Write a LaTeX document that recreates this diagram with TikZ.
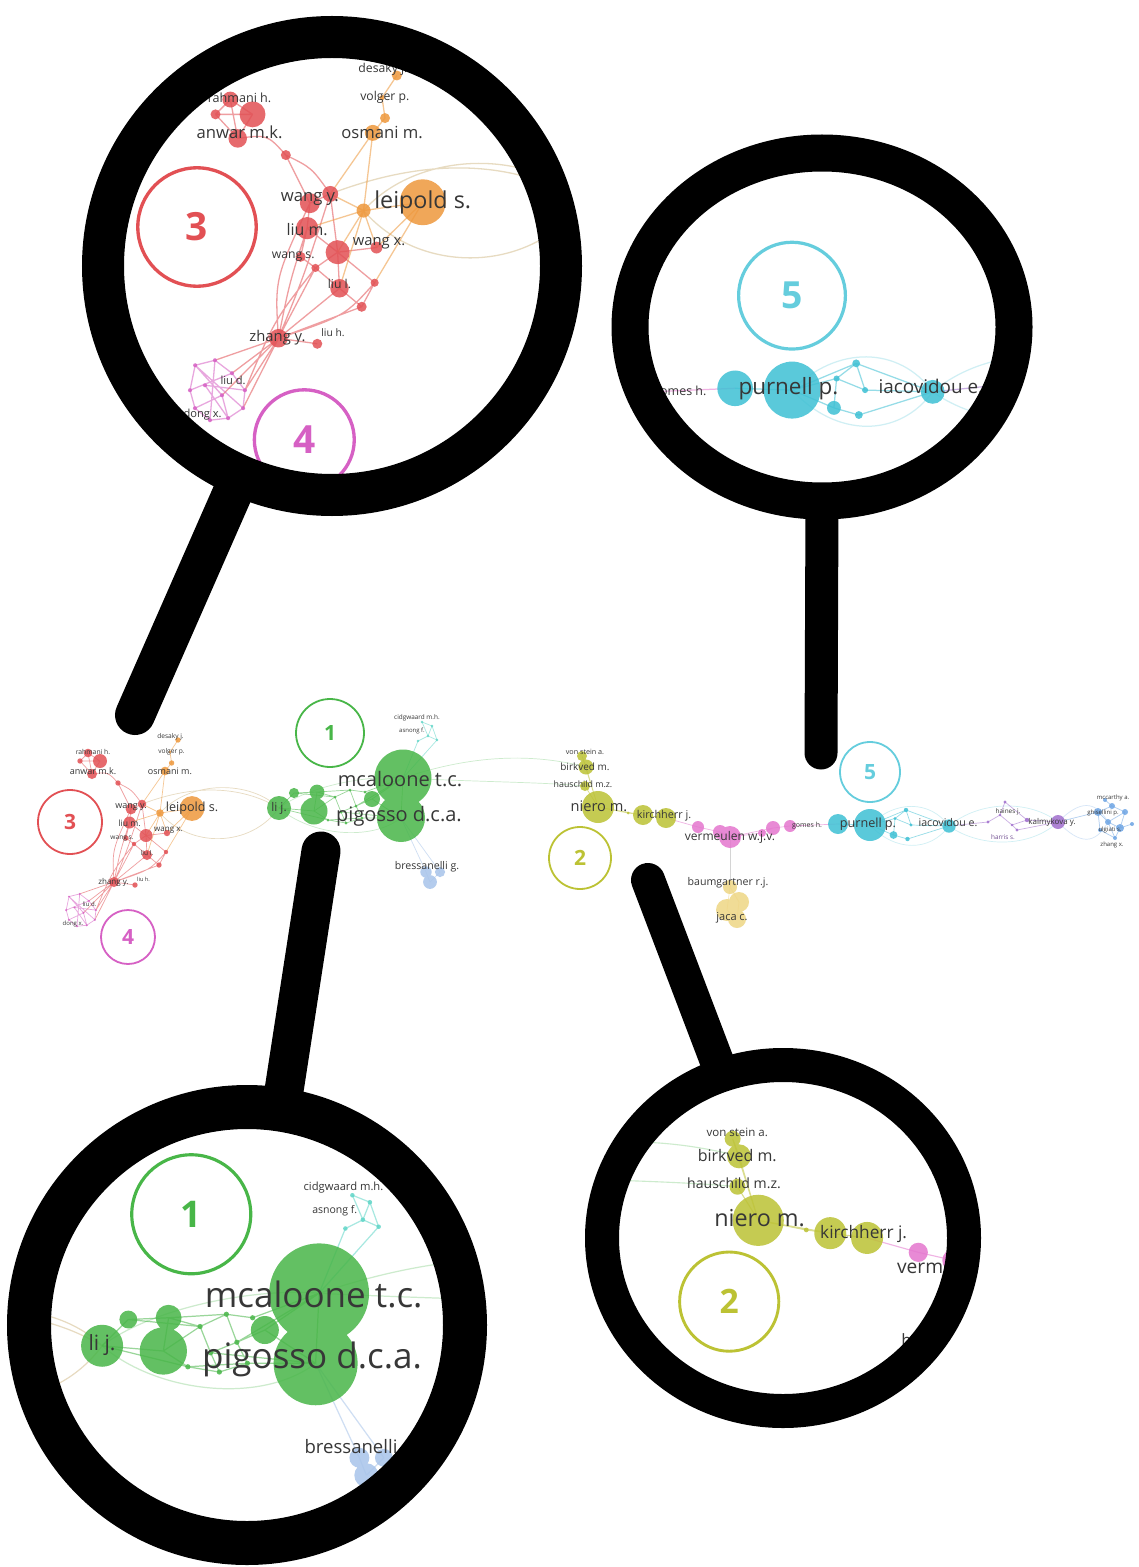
\documentclass[tikz,border=0pt]{standalone}
\usepackage{fontspec}
\setmainfont{Open Sans}
\definecolor{cR}{RGB}{226,80,84}
\definecolor{cO}{RGB}{238,152,60}
\definecolor{cG}{RGB}{72,182,72}
\definecolor{cY}{RGB}{188,194,52}
\definecolor{cP}{RGB}{228,118,206}
\definecolor{cM}{RGB}{214,96,196}
\definecolor{cC}{RGB}{62,192,212}
\definecolor{cV}{RGB}{160,110,205}
\definecolor{cB}{RGB}{110,165,228}
\definecolor{cLB}{RGB}{168,196,234}
\definecolor{cPY}{RGB}{238,214,132}
\definecolor{cT}{RGB}{96,214,200}
\definecolor{cL}{RGB}{226,210,178}
\definecolor{txt}{RGB}{55,55,55}
\tikzset{
 ed/.style={draw=#1, draw opacity=0.55, line width={\ns*0.35pt}},
 nd/.style={fill=#1, fill opacity=0.85},
 lab/.style={text=txt, inner sep=0pt, font=\fontsize{#1}{#1}\selectfont},
 clu/.style={draw=#1, line width={\ns*0.9pt}},
 num/.style={text=#1, inner sep=0pt, font=\fontsize{10.5}{10.5}\selectfont\bfseries},
 ringline/.style={draw=black, line width=#1},
 handle/.style={draw=black, line width=#1, line cap=round},
}
\def\ns{1}
% ================= geometry of the network =================
\newcommand\netgeom{
% cluster 3 (red) and orange
\coordinate (r1) at (88,753);
\coordinate (r2) at (100,761);
\coordinate (r3) at (80,761);
\coordinate (r4) at (92,774);
\coordinate (r5) at (118,783);
\coordinate (wy1) at (131,809);
\coordinate (wy2) at (142,804);
\coordinate (lm) at (129.5,822.5);
\coordinate (r6) at (146,835.5);
\coordinate (wx) at (167,833);
\coordinate (ws) at (126,838);
\coordinate (r7) at (134,844);
\coordinate (r8) at (147,855);
\coordinate (r9) at (166,852);
\coordinate (r10) at (159,865);
\coordinate (zy) at (114,882);
\coordinate (r11) at (135,885);
\coordinate (lp) at (192,808.5);
\coordinate (so) at (160,813);
\coordinate (om) at (165,771);
\coordinate (o2) at (171.6,763);
\coordinate (o3) at (178,740);
\coordinate (o4) at (170,752);
% cluster 4 (magenta)
\coordinate (k1) at (69,896.6);
\coordinate (k2) at (79.7,893.9);
\coordinate (k3) at (88.9,900.9);
\coordinate (k4) at (95.9,910.1);
\coordinate (k5) at (94.9,919.8);
\coordinate (k6) at (86.8,925.2);
\coordinate (k7) at (77,926.3);
\coordinate (k8) at (68.9,919.8);
\coordinate (k9) at (66.2,910.1);
\coordinate (k10) at (74.3,907.4);
\coordinate (k11) at (83.5,912.8);
% cluster 1 (green)
\coordinate (mc) at (403,778);
\coordinate (pg) at (401,818);
\coordinate (lj) at (279,808);
\coordinate (g2) at (314,811);
\coordinate (g3) at (317,792);
\coordinate (g4) at (294,793);
\coordinate (g5) at (372,799);
\coordinate (gd1) at (335,797);
\coordinate (gd2) at (341,812);
\coordinate (gd3) at (350,790);
\coordinate (gd4) at (356,806);
\coordinate (gd5) at (362,818);
\coordinate (gd6) at (346,823);
\coordinate (gd7) at (328,820);
\coordinate (gd8) at (365,792);
\coordinate (t1) at (422,722);
\coordinate (t2) at (432,726);
\coordinate (t3) at (428,736);
\coordinate (t4) at (418,741);
\coordinate (t5) at (437,740);
\coordinate (b1) at (426,872);
\coordinate (b2) at (430,882);
\coordinate (b3) at (440,872);
% cluster 2 (yellow)
\coordinate (nm) at (598,807);
\coordinate (vs) at (582,756);
\coordinate (bv) at (586,767);
\coordinate (hs) at (585,786);
\coordinate (kj1) at (643,815);
\coordinate (kj2) at (666,818);
\coordinate (yd) at (628,813);
% pink
\coordinate (p1) at (698,827);
\coordinate (p2) at (720,832);
\coordinate (vm) at (730,837);
\coordinate (p5) at (762,833);
\coordinate (p3) at (773,828);
\coordinate (p4) at (790,826);
\coordinate (j1) at (730,887);
\coordinate (j2) at (727,910);
\coordinate (j3) at (739,902);
\coordinate (j4) at (737,919);
% cluster 5 (cyan) and right part
\coordinate (pc) at (838,824);
\coordinate (pp) at (870,825);
\coordinate (c1) at (906,810);
\coordinate (c2) at (895,818.5);
\coordinate (c3) at (911,825);
\coordinate (c4) at (893.5,835);
\coordinate (c5) at (907.5,839);
\coordinate (ia) at (949,826);
\coordinate (v1) at (1005,802);
\coordinate (v2) at (1027,820);
\coordinate (v3) at (1017,830);
\coordinate (v4) at (988,822);
\coordinate (v5) at (1000,815);
\coordinate (v6) at (1012,825);
\coordinate (km) at (1058,822);
\coordinate (bb1) at (1098,812);
\coordinate (bb2) at (1112,806);
\coordinate (bb3) at (1125,812);
\coordinate (bb4) at (1108,822);
\coordinate (bb5) at (1120,828);
\coordinate (bb6) at (1100,830);
\coordinate (bb7) at (1132,824);
\coordinate (bb8) at (1115,838);
\coordinate (bb9) at (1105,800);
% ---------- edges
\draw[ed=cL, draw opacity=0.8] (so) .. controls (190,780) and (250,780) .. (lj)
  (so) .. controls (190,848) and (250,848) .. (lj)
  (wy2) .. controls (200,782) and (245,788) .. (lj);
\draw[ed=cG!60, draw opacity=0.45] (mc) .. controls (480,752) and (540,755) .. (bv)
  (mc) .. controls (480,782) and (540,782) .. (hs)
  (lj) .. controls (310,785) and (370,775) .. (mc)
  (lj) .. controls (310,835) and (370,842) .. (pg);
\draw[ed=cR] (r1) -- (r2) (r1) -- (r3) (r2) -- (r4) (r3) -- (r4) (r1) -- (r4) (r2) -- (r3)
  (r4) .. controls (108,772) .. (r5) (r5) .. controls (132,790) .. (wy2) (r5) -- (wy1)
  (wy1) -- (wy2) (wy1) -- (lm) (lm) -- (r6) (wy2) -- (r6) (lm) -- (ws) (ws) -- (r7)
  (r7) -- (r8) (r6) -- (r8) (r6) -- (wx) (r6) -- (r9) (r8) -- (r10) (r9) -- (r10) (r6) -- (r7)
  (zy) .. controls (112,850) .. (wy1) (zy) .. controls (120,852) .. (lm) (zy) -- (r7) (zy) -- (r8)
  (zy) -- (r11) (zy) .. controls (128,848) .. (wy2) (zy) -- (r10) (zy) .. controls (150,870) .. (r9)
  (zy) -- (k2) (zy) -- (k3) (zy) -- (k4) (zy) -- (k5) (zy) -- (k11)
  (k4) .. controls (112,872) .. (r7);
\draw[ed=cO] (om) -- (so) (om) -- (o2) (o2) -- (o4) (o4) -- (o3) (so) -- (lp) (so) -- (wy2)
  (so) -- (lm) (so) -- (r6) (so) -- (wx) (lp) -- (wx) (om) -- (wy2) (lp) -- (r9) (so) -- (r8);
\draw[ed=cM] (k1) -- (k2) -- (k3) -- (k4) -- (k5) -- (k6) -- (k7) -- (k8) -- (k9) -- (k1)
  (k1) -- (k5) (k2) -- (k7) (k3) -- (k9) (k10) -- (k4) (k11) -- (k1) (k11) -- (k6) (k11) -- (k8) (k10) -- (k6);
\draw[ed=cG] (lj) -- (g4) (lj) -- (g2) (g4) -- (g3) (g3) -- (g2) (g2) -- (gd7) (g2) -- (gd1)
  (g3) -- (gd1) (gd1) -- (gd3) (gd1) -- (gd2) (gd2) -- (gd4) (gd3) -- (gd4) (gd4) -- (g5)
  (gd3) -- (gd8) (gd8) -- (mc) (g5) -- (mc) (g5) -- (pg) (gd5) -- (pg) (gd4) -- (gd5)
  (gd6) -- (gd5) (gd7) -- (gd6) (gd2) -- (gd6) (mc) -- (pg) (g3) -- (gd3) (lj) -- (gd7)
  (gd2) -- (pg) (gd4) -- (mc) (g4) -- (gd1) (gd7) -- (gd5);
\draw[ed=cT] (t1) -- (t2) (t1) -- (t3) (t2) -- (t3) (t3) -- (t4) (t3) -- (t5) (t2) -- (t5)
  (t4) -- (mc) (t5) -- (mc);
\draw[ed=cLB] (pg) -- (b1) (pg) -- (b3) (b1) -- (b2) (b2) -- (b3);
\draw[ed=cY] (nm) -- (vs) (nm) -- (bv) (nm) -- (hs) (bv) -- (vs) (nm) -- (yd) (yd) -- (kj1)
  (kj1) -- (kj2) (nm) -- (kj1);
\draw[ed=cP] (kj2) -- (p1) (p1) -- (p2) (p2) -- (vm) (vm) -- (p5) (p5) -- (p3) (p3) -- (p4)
  (p4) -- (pc) (vm) -- (p3);
\draw[ed=gray!60] (vm) -- (j1);
\draw[ed=cPY] (j1) -- (j2) (j1) -- (j3) (j2) -- (j4) (j3) -- (j4);
\draw[ed=cC] (pc) -- (pp) (pp) -- (c1) (pp) -- (c2) (pp) -- (c4) (c1) -- (c3) (c2) -- (c3)
  (c4) -- (c5) (c1) -- (ia) (c3) -- (ia) (c5) -- (ia) (c2) -- (c4) (c1) -- (c2);
\draw[ed=cC!60, draw opacity=0.4] (pp) .. controls (895,800) and (930,800) .. (ia)
  (pp) .. controls (895,852) and (930,852) .. (ia)
  (ia) .. controls (980,800) and (1030,800) .. (km)
  (ia) .. controls (980,848) and (1030,848) .. (km);
\draw[ed=cV] (ia) -- (v4) (v4) -- (v5) (v5) -- (v1) (v5) -- (v6) (v6) -- (v2) (v6) -- (v3)
  (v2) -- (km) (v3) -- (km) (v1) -- (v2);
\draw[ed=cB!70, draw opacity=0.4] (km) .. controls (1080,800) and (1095,800) .. (bb4)
  (km) .. controls (1080,845) and (1095,845) .. (bb4);
\draw[ed=cB] (bb1) -- (bb2) (bb2) -- (bb3) (bb1) -- (bb4) (bb4) -- (bb5) (bb5) -- (bb3)
  (bb1) -- (bb6) (bb6) -- (bb8) (bb8) -- (bb5) (bb5) -- (bb7) (bb9) -- (bb2) (bb4) -- (bb3)
  (km) -- (bb1) (bb4) -- (bb8);
% ---------- nodes
\fill[nd=cR] (r1) circle (4.3) (r2) circle (7) (r3) circle (2.7) (r4) circle (5)
  (r5) circle (2.7) (wy1) circle (5.4) (wy2) circle (4.3) (lm) circle (6) (r6) circle (6.5)
  (wx) circle (3.2) (ws) circle (2.7) (r7) circle (2.2) (r8) circle (5) (r9) circle (2.2)
  (r10) circle (2.7) (zy) circle (5) (r11) circle (2.7);
\fill[nd=cO] (lp) circle (12.4) (so) circle (3.8) (om) circle (4.3) (o2) circle (2.7)
  (o3) circle (2.7) (o4) circle (1.4);
\fill[nd=cM] (k1) circle (1.1) (k2) circle (1.1) (k3) circle (1.1) (k4) circle (1.1)
  (k5) circle (1.1) (k6) circle (1.1) (k7) circle (1.1) (k8) circle (1.1) (k9) circle (1.1)
  (k10) circle (1.1) (k11) circle (1.1);
\fill[nd=cG] (mc) circle (28.5) (pg) circle (24) (lj) circle (12) (g2) circle (13.5)
  (g3) circle (7.4) (g4) circle (5.1) (g5) circle (8) (gd1) circle (1.5) (gd2) circle (1.5)
  (gd3) circle (1.5) (gd4) circle (1.5) (gd5) circle (1.5) (gd6) circle (1.5) (gd7) circle (1.5)
  (gd8) circle (1.5);
\fill[nd=cT] (t1) circle (1.3) (t2) circle (1.3) (t3) circle (1.3) (t4) circle (1.3) (t5) circle (1.3);
\fill[nd=cLB] (b1) circle (5.7) (b2) circle (6.9) (b3) circle (5.1);
\fill[nd=cY] (nm) circle (16) (vs) circle (5) (bv) circle (7.5) (hs) circle (5)
  (kj1) circle (10) (kj2) circle (10) (yd) circle (1.5);
\fill[nd=cP] (p1) circle (6) (p2) circle (7) (vm) circle (11) (p5) circle (4) (p3) circle (7)
  (p4) circle (6);
\fill[nd=cPY] (j1) circle (7) (j2) circle (11) (j3) circle (10) (j4) circle (9);
\fill[nd=cC] (pc) circle (10) (pp) circle (16) (c1) circle (2.2) (c2) circle (1.7) (c3) circle (1.7)
  (c4) circle (3.9) (c5) circle (2.2) (ia) circle (6.7);
\fill[nd=cV] (v1) circle (1.6) (v2) circle (2.2) (v3) circle (1.6) (v4) circle (1.6)
  (v5) circle (1.3) (v6) circle (1.3) (km) circle (7);
\fill[nd=cB] (bb1) circle (4) (bb2) circle (3) (bb3) circle (3) (bb4) circle (3) (bb5) circle (4)
  (bb6) circle (2) (bb7) circle (2) (bb8) circle (2) (bb9) circle (2);
% ---------- cluster circles
\draw[clu=cR] (70,822) circle (32);
\draw[clu=cM] (128,937) circle (27);
\draw[clu=cG] (330,733) circle (34);
\draw[clu=cY] (580,858) circle (31);
\draw[clu=cC!80] (870,772) circle (30);
}
% ================= label groups =================
\newcommand\labR{
\node[num=cR] (n3) at (70,822) {3};
\node[num=cM] (n4) at (128,937) {4};
\node[lab=3.4] (l1) at (93,752) {rahmani h.};
\node[lab=4.5] (l2) at (93,771) {anwar m.k.};
\node[lab=3.3] (l3) at (170.5,737) {desaky j.};
\node[lab=3.3] (l4) at (171.5,752) {volger p.};
\node[lab=4.5] (l5) at (170,771) {osmani m.};
\node[lab=4.5] (l6) at (131,807) {wang y.};
\node[lab=6.3] (l7) at (192,808.5) {leipold s.};
\node[lab=4.3] (l8) at (129.5,823.5) {liu m.};
\node[lab=4] (l9) at (168.4,830.6) {wang x.};
\node[lab=3.3] (l10) at (122,838) {wang s.};
\node[lab=3.3] (l11) at (147,853) {liu l.};
\node[lab=4] (l12) at (113.5,882) {zhang y.};
\node[lab=2.8] (l13) at (143.5,879) {liu h.};
\node[lab=3] (l14) at (89.5,904.7) {liu d.};
\node[lab=3] (l15) at (73,923.6) {dong x.};
}
\newcommand\labG{
\node[num=cG] (n1) at (330,733) {1};
\node[lab=6] (l16) at (279,808) {li j.};
\node[lab=10] (l17) at (400,779) {mcaloone t.c.};
\node[lab=10] (l18) at (399,816) {pigosso d.c.a.};
\node[lab=3.2] (l19) at (417,718) {cidgwaard m.h.};
\node[lab=3] (l20) at (412,731) {asnong f.};
\node[lab=5.3] (l21) at (427,867) {bressanelli g.};
}
\newcommand\labY{
\node[num=cY] (n2) at (580,858) {2};
\node[lab=3.6] (l22) at (585,752) {von stein a.};
\node[lab=5] (l23) at (585,767) {birkved m.};
\node[lab=4.4] (l24) at (583,784) {hauschild m.z.};
\node[lab=7.3] (l25) at (599,806) {niero m.};
\node[lab=5.4] (l26) at (664,816) {kirchherr j.};
\node[lab=6] (l27) at (730,837) {vermeulen w.j.v.};
\node[lab=5.3] (l29) at (728,883) {baumgartner r.j.};
}
\newcommand\labJ{
\node[lab=5.5] (l30) at (732,918) {jaca c.};
}
\newcommand\labC{
\node[num=cC!80] (n5) at (870,772) {5};
\node[lab=3.5] (l28) at (807,826) {gomes h.};
\node[lab=6.3] (l31) at (868,824) {purnell p.};
\node[lab=5.3] (l32) at (948,823) {iacovidou e.};
\node[lab=3.2, text=cV!70!black] (l34) at (1003,837) {harris s.};
}
\newcommand\labV{
\node[lab=3.2] (l33) at (1008,812) {haines j.};
\node[lab=4] (l35) at (1052,822) {kalmykova y.};
\node[lab=3] (l36) at (1113,798) {mccarthy a.};
\node[lab=3] (l37) at (1103,813) {ghisellini p.};
\node[lab=3] (l38) at (1110,830) {ulgiati s.};
\node[lab=3] (l39) at (1112,845) {zhang x.};
}
\begin{document}
\begin{tikzpicture}[x=0.5pt,y=-0.5pt]
\useasboundingbox (0,0) rectangle (1139,1567);
\fill[white] (0,0) rectangle (1139,1567);
% middle overview network
\def\ns{1}
\netgeom
\labR \labG \labY \labJ \labC \labV
% magnified view A (clusters 3 and 4)
\begin{scope}
\clip (332,266) circle (229);
\begin{scope}[xshift=33.75pt, yshift=646.85pt, scale=1.85, transform shape]
\def\ns{1.85}
\netgeom
\labR
\end{scope}
\end{scope}
% magnified view B (cluster 5)
\begin{scope}
\clip (822,327) ellipse (192 and 174);
\begin{scope}[xshift=-378.3pt, yshift=539.25pt, scale=1.78, transform shape]
\def\ns{1.78}
\netgeom
\labC
\end{scope}
\end{scope}
% magnified view C (cluster 1)
\begin{scope}
\clip (247,1325) circle (218);
\begin{scope}[xshift=-193.125pt, yshift=34.25pt, scale=1.75, transform shape]
\def\ns{1.75}
\netgeom
\labG
\end{scope}
\end{scope}
% magnified view D (cluster 2)
\begin{scope}
\clip (783,1238) ellipse (181 and 173);
\begin{scope}[xshift=-99.4pt, yshift=35.6pt, scale=1.6, transform shape]
\def\ns{1.6}
\netgeom
\labY
\end{scope}
\end{scope}
% magnifier handles
\coordinate (hA1) at (135,715);
\coordinate (hA2) at (240,476);
\coordinate (hB1) at (821,753);
\coordinate (hB2) at (822,500);
\coordinate (hC1) at (321,851);
\coordinate (hC2) at (281,1110);
\coordinate (hD1) at (648,880);
\coordinate (hD2) at (721,1072);
\draw[handle=20pt] (hA1) -- (hA2);
\draw[handle=16.5pt] (hB1) -- (hB2);
\draw[handle=19.5pt] (hC1) -- (hC2);
\draw[handle=17pt] (hD1) -- (hD2);
% magnifier rings
\draw[ringline=21pt] (332,266) circle (229);
\draw[ringline=18.5pt] (822,327) ellipse (192 and 174);
\draw[ringline=22pt] (247,1325) circle (218);
\draw[ringline=17pt] (783,1238) ellipse (181 and 173);
\end{tikzpicture}
\end{document}
